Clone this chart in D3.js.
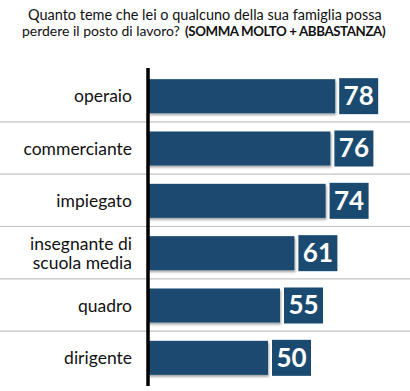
<!DOCTYPE html>
<html lang="it">
<head>
<meta charset="utf-8">
<script src="https://cdn.jsdelivr.net/npm/d3@7"></script>
<style>
  html, body { margin: 0; padding: 0; background: #fff; }
  text { font-family: Lato, "Open Sans", sans-serif; }
</style>
</head>
<body>
<div id="chart"></div>
<script>
// dati
var categories = ["operaio", "commerciante", "impiegato", "insegnante di\nscuola media", "quadro", "dirigente"];
var values = [78, 76, 74, 61, 55, 50];
var titleLines = ["Quanto teme che lei o qualcuno della sua famiglia possa", "perdere il posto di lavoro? "];
var titleBold = "(SOMMA MOLTO + ABBASTANZA)";

var W = 410, H = 391;
var barColor = "#1b4a70";

var svg = d3.select("#chart").append("svg")
    .attr("width", W).attr("height", H);

// ombra delle barre
var f = svg.append("defs").append("filter").attr("id", "shadow")
    .attr("x", "-5%").attr("y", "-10%").attr("width", "115%").attr("height", "140%");
f.append("feDropShadow").attr("dx", 1).attr("dy", 2).attr("stdDeviation", 1)
    .attr("flood-color", "#000").attr("flood-opacity", 0.35);

function fit(sel, target) {
    var w = sel.node().getComputedTextLength();
    sel.attr("font-size", 14 * target / w);
}
var t1 = svg.append("text").attr("x", 28).attr("y", 19.5).attr("font-size", 14).attr("fill", "#111")
    .text(titleLines[0]);
fit(t1, 354);
var t2 = svg.append("text").attr("x", 22).attr("y", 36).attr("font-size", 14).attr("fill", "#111")
    .text(titleLines[1].trim());
fit(t2, 158);
var t3 = svg.append("text").attr("x", 185).attr("y", 36).attr("font-size", 14).attr("fill", "#111")
    .attr("font-weight", "bold").attr("letter-spacing", -0.4).text(titleBold);
fit(t3, 201);

// scale
var x = d3.scaleLinear().domain([0, 100]).range([148, 388]);
var y = d3.scaleBand().domain(categories).range([70, 384]).paddingInner(0.35).paddingOuter(0.175);

// separatori
svg.selectAll("line.sep")
    .data(categories.slice(1))
    .enter().append("line")
    .attr("x1", 0).attr("x2", W)
    .attr("y1", function(d) { return y(d) - y.step() * y.paddingInner() / 2 - 0.5; })
    .attr("y2", function(d) { return y(d) - y.step() * y.paddingInner() / 2 - 0.5; })
    .attr("stroke", "#c4c4c4").attr("stroke-width", 1.2);

// barre
svg.selectAll("rect.bar")
    .data(values)
    .enter().append("rect")
    .attr("x", x(0))
    .attr("y", function(d, i) { return y(categories[i]); })
    .attr("width", function(d) { return x(d) - x(0); })
    .attr("height", y.bandwidth())
    .attr("fill", barColor)
    .attr("filter", "url(#shadow)");

// riquadri valori
var g = svg.selectAll("g.val")
    .data(values)
    .enter().append("g")
    .attr("transform", function(d, i) { return "translate(" + (x(d) + 4) + "," + (y(categories[i]) - 1) + ")"; });
g.append("rect")
    .attr("width", 39).attr("height", y.bandwidth() + 2)
    .attr("fill", barColor);
g.append("text")
    .attr("x", 19.5).attr("y", y.bandwidth() / 2 + 10)
    .attr("text-anchor", "middle")
    .attr("font-size", 26).attr("font-weight", "bold").attr("fill", "#fff")
    .text(function(d) { return d; });

// etichette
svg.selectAll("text.cat")
    .data(categories)
    .enter().append("text")
    .attr("text-anchor", "end")
    .attr("font-size", 17.5)
    .attr("fill", "#111")
    .each(function(d) {
        var lines = d.split("\n");
        var cy = y(d) + y.bandwidth() / 2;
        var t0 = cy + 6 - (lines.length - 1) * 9.5;
        var el = d3.select(this);
        lines.forEach(function(s, k) {
            el.append("tspan").attr("x", 132).attr("y", t0 + k * 19).text(s);
        });
    });

// asse verticale
svg.append("line")
    .attr("x1", 148).attr("x2", 148)
    .attr("y1", 68).attr("y2", 386)
    .attr("stroke", "#000").attr("stroke-width", 3.5);
</script>
</body>
</html>
